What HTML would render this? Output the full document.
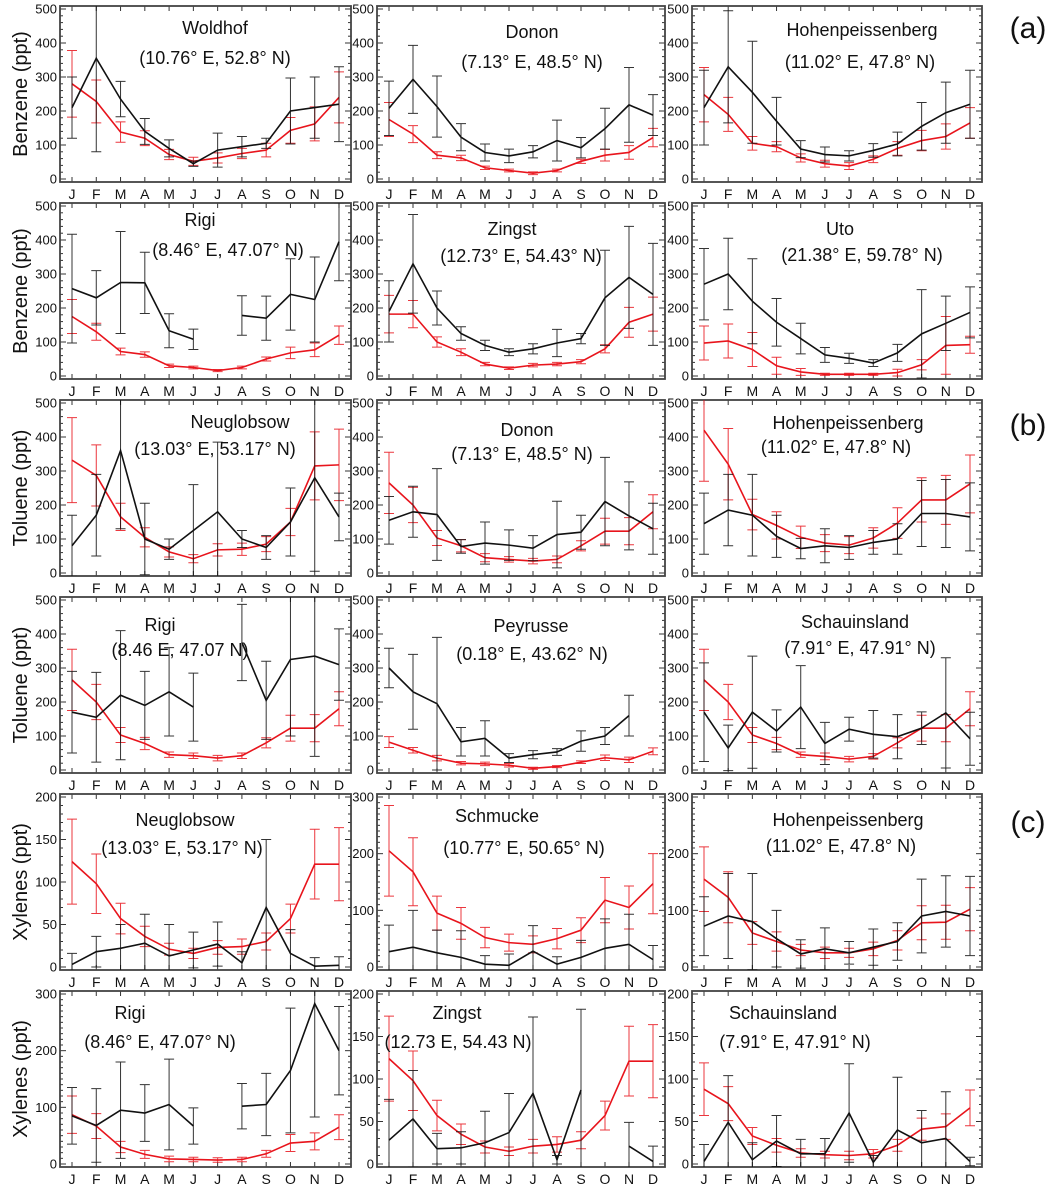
<!DOCTYPE html>
<html><head><meta charset="utf-8"><style>
body{margin:0;background:#fff;}
svg{display:block;font-family:"Liberation Sans",sans-serif;}
</style></head><body>
<svg id="chart" width="1055" height="1189" viewBox="0 0 1055 1189" xmlns="http://www.w3.org/2000/svg"></svg>
<script>
const months = ["J","F","M","A","M","J","J","A","S","O","N","D"];
// Benzene
const woldhofBlack = [210,355,235,140,90,45,85,95,105,200,210,220];
const woldhofBlackErr = [90,275,52,38,25,8,50,30,15,97,90,110];
const woldhofRed = [280,228,138,120,72,52,62,75,85,143,162,240];
const woldhofRedErr = [98,63,30,22,15,12,15,15,20,38,50,75];
const dononBzBlack = [208,293,213,123,78,68,80,113,92,148,218,188];
const dononBzBlackErr = [80,100,90,40,25,20,18,60,30,60,110,60];
const dononBzRed = [175,132,70,62,33,25,17,25,52,70,78,122];
const dononBzRedErr = [50,25,10,8,5,4,4,4,6,17,20,27];
const hohenBzBlack = [210,330,255,170,88,72,68,84,103,155,195,220];
const hohenBzBlackErr = [110,165,150,70,25,22,15,20,35,70,90,100];
const hohenBzRed = [248,190,105,95,62,45,38,58,90,113,125,165];
const hohenBzRedErr = [80,50,20,15,12,10,10,10,20,30,37,45];
const rigiBzBlack = [257,230,275,274,133,108,null,178,170,240,225,395];
const rigiBzBlackErr = [160,80,150,90,50,30,null,58,65,105,125,115];
const rigiBzRed = [175,130,72,63,30,25,16,25,50,68,77,120];
const rigiBzRedErr = [50,25,10,8,5,4,3,4,6,17,20,27];
const zingstBzBlack = [190,330,200,125,90,70,80,97,110,230,290,240];
const zingstBzBlackErr = [90,145,50,20,15,10,15,40,15,140,150,150];
const zingstBzRed = [182,182,100,70,35,23,32,35,42,80,158,182];
const zingstBzRedErr = [55,40,15,10,5,4,5,5,6,12,44,50];
const utoBlack = [270,300,220,158,110,62,52,38,68,124,155,187];
const utoBlackErr = [105,105,125,70,45,22,15,10,25,130,80,75];
const utoRed = [97,103,78,30,12,5,5,5,10,33,90,92];
const utoRedErr = [50,50,50,25,10,3,3,3,10,15,85,25];
// Toluene
const neuTolBlack = [80,170,360,100,70,125,180,100,75,150,280,165];
const neuTolBlackErr = [90,120,230,105,30,135,205,25,35,100,275,70];
const neuTolRed = [332,287,165,105,62,42,68,70,85,150,315,318];
const neuTolRedErr = [125,90,40,28,15,12,18,18,22,40,100,105];
const dononTolBlack = [155,180,172,78,88,82,73,113,120,210,168,130];
const dononTolBlackErr = [70,75,135,20,62,45,37,98,50,130,100,75];
const dononTolRed = [265,200,103,80,45,40,35,40,80,123,123,180];
const dononTolRedErr = [90,52,22,18,12,8,8,10,15,38,40,50];
const hohenTolBlack = [145,185,170,108,72,80,75,90,100,175,175,165];
const hohenTolBlackErr = [90,105,120,62,30,50,35,35,45,97,100,100];
const hohenTolRed = [420,320,172,140,105,88,82,103,147,215,215,262];
const hohenTolRedErr = [150,105,45,40,33,25,25,30,45,65,72,85];
const rigiTolBlack = [170,155,220,190,230,185,null,375,205,325,335,310];
const rigiTolBlackErr = [120,132,190,100,130,100,null,112,115,225,295,105];
const rigiTolRed = [265,200,103,78,45,42,35,42,80,123,123,180];
const rigiTolRedErr = [90,52,22,18,8,8,8,8,15,38,40,50];
const peyBlack = [300,230,195,83,93,35,45,53,85,100,160,null];
const peyBlackErr = [58,110,195,42,52,13,12,10,30,25,60,null];
const peyRed = [82,58,35,20,18,14,5,10,23,36,30,55];
const peyRedErr = [16,8,8,5,5,5,3,3,4,8,8,10];
const schTolBlack = [170,65,170,115,185,78,120,105,98,123,168,92];
const schTolBlackErr = [145,67,165,62,122,62,35,70,65,48,162,78];
const schTolRed = [265,200,103,78,45,40,32,40,80,123,123,180];
const schTolRedErr = [90,52,22,18,8,10,8,8,15,38,40,50];
// Xylenes
const neuXyBlack = [3,18,22,28,13,20,27,5,70,16,1,2];
const neuXyBlackErr = [13,18,28,34,37,21,26,13,80,28,10,10];
const neuXyRed = [124,98,57,36,21,16,23,24,30,57,121,121];
const neuXyRedErr = [50,35,18,12,7,6,8,9,10,17,41,43];
const schmBlack = [27,35,25,17,5,3,28,5,17,33,40,13];
const schmBlackErr = [47,65,40,47,15,20,45,13,30,52,53,25];
const schmRed = [205,168,95,77,52,43,40,50,65,118,105,147];
const schmRedErr = [80,60,30,28,18,15,15,18,22,40,38,53];
const hohenXyBlack = [72,90,80,50,23,32,25,35,45,90,98,90];
const hohenXyBlackErr = [52,75,85,50,25,37,20,32,33,65,63,70];
const hohenXyRed = [155,123,60,45,30,25,25,32,47,78,79,102];
const hohenXyRedErr = [57,45,20,17,10,10,8,12,17,30,30,38];
const rigiXyBlack = [85,68,95,90,105,67,null,102,105,165,283,200];
const rigiXyBlackErr = [50,65,85,50,80,32,null,40,55,110,200,78];
const rigiXyRed = [87,67,30,17,9,8,7,8,18,37,40,65];
const rigiXyRedErr = [33,22,10,7,5,4,4,4,6,15,15,22];
const zingstXyBlack = [28,53,18,19,25,37,83,5,87,null,21,3];
const zingstXyBlackErr = [48,57,18,19,37,46,90,5,95,null,28,18];
const zingstXyRed = [124,98,57,35,20,15,21,23,28,57,121,121];
const zingstXyRedErr = [50,35,18,12,7,5,8,9,10,17,41,43];
const schXyBlack = [3,49,5,27,12,12,60,2,40,25,30,3];
const schXyBlackErr = [20,55,20,30,17,18,58,8,62,38,55,5];
const schXyRed = [88,71,33,22,13,11,10,12,22,41,44,66];
const schXyRedErr = [31,20,10,8,5,4,5,5,7,13,15,21];

const panels = [
 {id:"woldhof-benzene",r:0,c:0,ymax:500,b:woldhofBlack,be:woldhofBlackErr,rd:woldhofRed,re:woldhofRedErr,t:"Woldhof",tx:215,ty:28,s:"(10.76° E, 52.8° N)",sx:215,sy:58},
 {id:"donon-benzene",r:0,c:1,ymax:500,b:dononBzBlack,be:dononBzBlackErr,rd:dononBzRed,re:dononBzRedErr,t:"Donon",tx:532,ty:32,s:"(7.13° E, 48.5° N)",sx:532,sy:62},
 {id:"hohenpeissenberg-benzene",r:0,c:2,ymax:500,b:hohenBzBlack,be:hohenBzBlackErr,rd:hohenBzRed,re:hohenBzRedErr,t:"Hohenpeissenberg",tx:862,ty:30,s:"(11.02° E, 47.8° N)",sx:860,sy:62},
 {id:"rigi-benzene",r:1,c:0,ymax:500,b:rigiBzBlack,be:rigiBzBlackErr,rd:rigiBzRed,re:rigiBzRedErr,t:"Rigi",tx:200,ty:220,s:"(8.46° E, 47.07° N)",sx:228,sy:250},
 {id:"zingst-benzene",r:1,c:1,ymax:500,b:zingstBzBlack,be:zingstBzBlackErr,rd:zingstBzRed,re:zingstBzRedErr,t:"Zingst",tx:512,ty:229,s:"(12.73° E, 54.43° N)",sx:521,sy:256},
 {id:"uto-benzene",r:1,c:2,ymax:500,b:utoBlack,be:utoBlackErr,rd:utoRed,re:utoRedErr,t:"Uto",tx:840,ty:229,s:"(21.38° E, 59.78° N)",sx:862,sy:255},
 {id:"neuglobsow-toluene",r:2,c:0,ymax:500,b:neuTolBlack,be:neuTolBlackErr,rd:neuTolRed,re:neuTolRedErr,t:"Neuglobsow",tx:240,ty:422,s:"(13.03° E, 53.17° N)",sx:215,sy:449},
 {id:"donon-toluene",r:2,c:1,ymax:500,b:dononTolBlack,be:dononTolBlackErr,rd:dononTolRed,re:dononTolRedErr,t:"Donon",tx:527,ty:430,s:"(7.13° E, 48.5° N)",sx:522,sy:454},
 {id:"hohenpeissenberg-toluene",r:2,c:2,ymax:500,b:hohenTolBlack,be:hohenTolBlackErr,rd:hohenTolRed,re:hohenTolRedErr,t:"Hohenpeissenberg",tx:848,ty:423,s:"(11.02° E, 47.8° N)",sx:836,sy:447},
 {id:"rigi-toluene",r:3,c:0,ymax:500,b:rigiTolBlack,be:rigiTolBlackErr,rd:rigiTolRed,re:rigiTolRedErr,t:"Rigi",tx:160,ty:625,s:"(8.46 E, 47.07 N)",sx:180,sy:650},
 {id:"peyrusse-toluene",r:3,c:1,ymax:500,b:peyBlack,be:peyBlackErr,rd:peyRed,re:peyRedErr,t:"Peyrusse",tx:531,ty:626,s:"(0.18° E, 43.62° N)",sx:532,sy:654},
 {id:"schauinsland-toluene",r:3,c:2,ymax:500,b:schTolBlack,be:schTolBlackErr,rd:schTolRed,re:schTolRedErr,t:"Schauinsland",tx:855,ty:622,s:"(7.91° E, 47.91° N)",sx:860,sy:648},
 {id:"neuglobsow-xylenes",r:4,c:0,ymax:200,b:neuXyBlack,be:neuXyBlackErr,rd:neuXyRed,re:neuXyRedErr,t:"Neuglobsow",tx:185,ty:820,s:"(13.03° E, 53.17° N)",sx:182,sy:848},
 {id:"schmucke-xylenes",r:4,c:1,ymax:300,b:schmBlack,be:schmBlackErr,rd:schmRed,re:schmRedErr,t:"Schmucke",tx:497,ty:816,s:"(10.77° E, 50.65° N)",sx:524,sy:848},
 {id:"hohenpeissenberg-xylenes",r:4,c:2,ymax:300,b:hohenXyBlack,be:hohenXyBlackErr,rd:hohenXyRed,re:hohenXyRedErr,t:"Hohenpeissenberg",tx:848,ty:820,s:"(11.02° E, 47.8° N)",sx:841,sy:846},
 {id:"rigi-xylenes",r:5,c:0,ymax:300,b:rigiXyBlack,be:rigiXyBlackErr,rd:rigiXyRed,re:rigiXyRedErr,t:"Rigi",tx:130,ty:1013,s:"(8.46° E, 47.07° N)",sx:160,sy:1042},
 {id:"zingst-xylenes",r:5,c:1,ymax:200,b:zingstXyBlack,be:zingstXyBlackErr,rd:zingstXyRed,re:zingstXyRedErr,t:"Zingst",tx:457,ty:1013,s:"(12.73 E, 54.43 N)",sx:458,sy:1042},
 {id:"schauinsland-xylenes",r:5,c:2,ymax:200,b:schXyBlack,be:schXyBlackErr,rd:schXyRed,re:schXyRedErr,t:"Schauinsland",tx:783,ty:1013,s:"(7.91° E, 47.91° N)",sx:795,sy:1042}
];
const rowTitles = ["Benzene (ppt)","Benzene (ppt)","Toluene (ppt)","Toluene (ppt)","Xylenes (ppt)","Xylenes (ppt)"];
const groupLabels = ["(a)","(b)","(c)"];

const NS="http://www.w3.org/2000/svg";
const svg=document.getElementById("chart");
const colL=[60,377,692], colR=[351,665,982];
const rowTop=r=>6+197*r, H=176;
function mk(tag,attrs,parent){const e=document.createElementNS(NS,tag);for(const k in attrs)e.setAttribute(k,attrs[k]);(parent||svg).appendChild(e);return e;}

panels.forEach((p,pi)=>{
  const L=colL[p.c],R=colR[p.c],T=rowTop(p.r),B=T+H;
  const xs=i=>L+12+i*(R-L-24)/11;
  const ys=v=>(B-3)-v/p.ymax*(H-6);
  const g=mk("g",{});
  
  
  const cp=mk("clipPath",{id:"cp"+pi},g);
  mk("rect",{x:L,y:T,width:R-L,height:H},cp);
  // ticks
  const minor=p.ymax===500?20:10, major=p.ymax===500?100:(p.ymax===300?100:50);
  for(let v=0;v<=p.ymax;v+=minor){
    const y=ys(v), len=(v%major===0)?6:3;
    const t1=mk("line",{x1:L,x2:L+len,y1:y,y2:y,stroke:"#333","stroke-width":1},g);
    
    
    mk("line",{x1:R,x2:R-len,y1:y,y2:y,stroke:"#333","stroke-width":1},g);
    if(v%major===0){
      const tl=mk("text",{x:L-3,y:y+4.5,"text-anchor":"end","font-size":13,fill:"#111"},g);
      tl.textContent=v;
      
      
    }
  }
  months.forEach((m,i)=>{
    const x=xs(i);
    mk("line",{x1:x,x2:x,y1:B,y2:B-5,stroke:"#333","stroke-width":1},g);
    mk("line",{x1:x,x2:x,y1:T,y2:T+5,stroke:"#333","stroke-width":1},g);
    const ml=mk("text",{x:x,y:B+17,"text-anchor":"middle","font-size":14,fill:"#111"},g);
    ml.textContent=m;
    
    
  });
  const frame=mk("rect",{x:L,y:T,width:R-L,height:H,fill:"none",stroke:"#444","stroke-width":1.8},g);
  
  
  const inner=mk("g",{"clip-path":"url(#cp"+pi+")"},g);
  [[p.rd,p.re,"#e8141c","red"],[p.b,p.be,"#111","black"]].forEach(([vals,errs,col,nm])=>{
    vals.forEach((v,i)=>{
      if(v===null)return;
      const x=xs(i),e=errs[i];
      const eb=mk("path",{d:`M${x},${ys(v-e)}V${ys(v+e)}M${x-5},${ys(v-e)}H${x+5}M${x-5},${ys(v+e)}H${x+5}`,stroke:col,"stroke-width":1,fill:"none",opacity:0.85},inner);
      
      
    });
    let d="",pen=false;
    vals.forEach((v,i)=>{
      if(v===null){pen=false;return;}
      d+=(pen?"L":"M")+xs(i)+","+ys(v);pen=true;
    });
    const ln=mk("path",{d:d,stroke:col,"stroke-width":1.6,fill:"none"},inner);
    
    
  });
  const tt=mk("text",{x:p.tx,y:p.ty+6,"text-anchor":"middle","font-size":18,fill:"#111"},g);
  tt.textContent=p.t;
  
  
  const st=mk("text",{x:p.sx,y:p.sy+6,"text-anchor":"middle","font-size":18,fill:"#111"},g);
  st.textContent=p.s;
  
  
});
rowTitles.forEach((t,r)=>{
  const cy=rowTop(r)+H/2;
  const yt=mk("text",{x:0,y:0,"text-anchor":"middle","font-size":20,fill:"#111",transform:`translate(27,${cy}) rotate(-90)`});
  yt.textContent=t;
  
  
});
groupLabels.forEach((t,i)=>{
  const gl=mk("text",{x:1028,y:[38,435,832][i],"text-anchor":"middle","font-size":30,fill:"#111"});
  gl.textContent=t;
  
  
});
</script>
</body></html>
